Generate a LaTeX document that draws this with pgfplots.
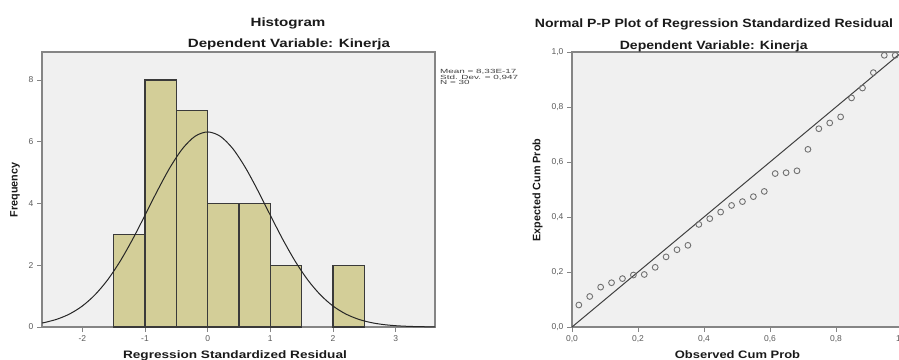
\documentclass[border=0pt]{standalone}
\usepackage{fontspec}
\setmainfont{Liberation Sans}
\usepackage{graphicx}
\usepackage{pgfplots}
\pgfplotsset{compat=1.18}
\definecolor{plotbg}{HTML}{F0F0F0}
\definecolor{barfill}{HTML}{D3CE98}
\definecolor{baredge}{HTML}{3A3A3A}
\definecolor{framec}{HTML}{858585}
\definecolor{tickc}{HTML}{5A5A5A}
\definecolor{markc}{HTML}{707070}
\definecolor{textc}{HTML}{1A1A1A}
\pgfplotsset{spss/.style={
  scale only axis,
  axis background/.style={fill=plotbg},
  axis line style={draw=framec, line width=1.3pt},
  tick align=outside, xtick pos=left, ytick pos=left,
  major tick length=5pt,
  every tick/.style={draw=framec, line width=0.9pt},
  tick label style={font=\fontsize{8.5}{9}\selectfont, text=tickc},
  /pgf/number format/assume math mode=true,
}}
\begin{document}
\begin{tikzpicture}
\useasboundingbox (0,0) rectangle (899pt,359pt);
% ---------------- Histogram ----------------
\begin{axis}[spss,
  at={(42pt,32pt)}, anchor=south west,
  width=393pt, height=275pt,
  xmin=-2.643, xmax=3.627, ymin=0, ymax=8.907,
  xtick={-2,-1,0,1,2,3}, ytick={0,2,4,6,8},
  clip=true]
\addplot[ybar, bar width=0.5, bar shift=0pt, fill=barfill, draw=baredge, line width=1.1pt]
  coordinates {(-1.25,3) (-0.75,8) (-0.25,7) (0.25,4) (0.75,4) (1.25,2) (2.25,2)};
\addplot[black!85, line width=1pt, smooth] coordinates {
 (-2.643,0.130) (-2.6,0.146) (-2.4,0.255) (-2.2,0.425) (-2.0,0.679) (-1.8,1.038)
 (-1.6,1.516) (-1.4,2.118) (-1.2,2.831) (-1.0,3.618) (-0.8,4.422) (-0.6,5.169)
 (-0.4,5.779) (-0.2,6.179) (0,6.318) (0.2,6.179) (0.4,5.779) (0.6,5.169)
 (0.8,4.422) (1.0,3.618) (1.2,2.831) (1.4,2.118) (1.6,1.516) (1.8,1.038)
 (2.0,0.679) (2.2,0.425) (2.4,0.255) (2.6,0.146) (2.8,0.080) (3.0,0.042)
 (3.2,0.021) (3.4,0.010) (3.627,0.004)};
\end{axis}
% ---------------- P-P plot ----------------
\begin{axis}[spss,
  at={(572pt,32pt)}, anchor=south west,
  width=330pt, height=275pt,
  xmin=0, xmax=1, ymin=0, ymax=1,
  xtick={0,0.2,0.4,0.6,0.8,1}, ytick={0,0.2,0.4,0.6,0.8,1},
  xticklabel style={/pgf/number format/fixed,/pgf/number format/fixed zerofill,/pgf/number format/precision=1,/pgf/number format/use comma},
  yticklabel style={/pgf/number format/fixed,/pgf/number format/fixed zerofill,/pgf/number format/precision=1,/pgf/number format/use comma},
  clip=false]
\addplot[draw=black!75, line width=1pt] coordinates {(0,0) (1,1)};
\addplot[only marks, mark=o, mark size=2.9pt, mark options={draw=markc, line width=0.9pt}] coordinates {
 (0.0207,0.080) (0.0537,0.111) (0.0868,0.145) (0.1198,0.161) (0.1529,0.176)
 (0.1860,0.189) (0.2190,0.191) (0.2521,0.217) (0.2851,0.255) (0.3182,0.281)
 (0.3512,0.297) (0.3843,0.373) (0.4174,0.394) (0.4504,0.418) (0.4835,0.442)
 (0.5165,0.456) (0.5496,0.474) (0.5826,0.493) (0.6157,0.558) (0.6488,0.561)
 (0.6818,0.568) (0.7149,0.646) (0.7479,0.721) (0.7810,0.742) (0.8140,0.764)
 (0.8471,0.833) (0.8802,0.869) (0.9132,0.925) (0.9463,0.988) (0.9793,0.988)};
\end{axis}
% ---------------- texts ----------------
\node[anchor=base, text=textc, font=\fontsize{12}{14}\selectfont\bfseries] at (288pt,332.7pt) {\scalebox{1.26}[1]{Histogram}};
\node[anchor=base, text=textc, font=\fontsize{12}{14}\selectfont\bfseries] at (289pt,311.7pt) {\scalebox{1.26}[1]{Dependent Variable: Kinerja}};
\node[anchor=base, text=textc, font=\fontsize{12}{14}\selectfont\bfseries] at (714pt,331.7pt) {\scalebox{1.17}[1]{Normal P-P Plot of Regression Standardized Residual}};
\node[anchor=base, text=textc, font=\fontsize{12}{14}\selectfont\bfseries] at (713.7pt,309.7pt) {\scalebox{1.17}[1]{Dependent Variable: Kinerja}};
\node[rotate=90, text=textc, font=\fontsize{10.8}{12}\selectfont\bfseries] at (15pt,169pt) {Frequency};
\node[rotate=90, text=textc, font=\fontsize{10.8}{12}\selectfont\bfseries] at (537.5pt,169pt) {Expected Cum Prob};
\node[anchor=base, text=textc, font=\fontsize{10.8}{12}\selectfont\bfseries] at (235pt,1pt) {\scalebox{1.26}[1]{Regression Standardized Residual}};
\node[anchor=base, text=textc, font=\fontsize{10.8}{12}\selectfont\bfseries] at (737.5pt,1pt) {\scalebox{1.2}[1]{Observed Cum Prob}};
\node[anchor=north west, inner sep=0pt, align=left, text=black!75, font=\fontsize{6}{5}\selectfont] at (440pt,290pt)
 {\scalebox{1.65}[1]{Mean = 8,33E-17}\\\scalebox{1.65}[1]{Std. Dev. = 0,947}\\\scalebox{1.65}[1]{N = 30}};
\end{tikzpicture}
\end{document}
